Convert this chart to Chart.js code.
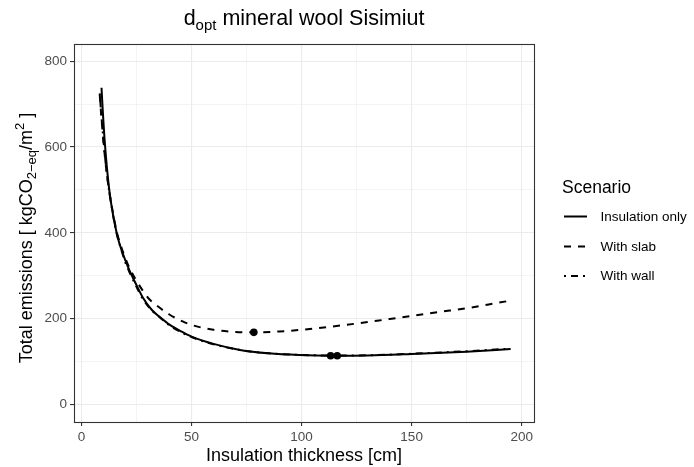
<!DOCTYPE html>
<html>
<head>
<meta charset="utf-8">
<title>dopt mineral wool Sisimiut</title>
<script src="https://cdn.jsdelivr.net/npm/chart.js@4.4.1/dist/chart.umd.min.js"></script>
<style>
    html, body { margin: 0; padding: 0; background: #ffffff; }
    #wrap { width: 694px; height: 467px; }
</style>
</head>
<body>
<div id="wrap"><canvas id="chart" width="694" height="467"></canvas></div>
<script>
// Series
const scenarios = ['Insulation only', 'With slab', 'With wall'];

const insulX = [9.1, 9.5, 10.6, 12.5, 14.4, 15.9, 17.4, 20, 22, 25, 28, 32, 36, 40, 45, 50, 60, 72, 85, 99, 114, 130, 150, 175, 195];
const insulY = [738, 700, 610, 505, 440, 402, 372, 335, 310, 278, 248, 220, 202, 186, 171, 158, 141, 127, 119, 115, 113.5, 114, 117.5, 123, 129];

const slabX = [8.3, 9, 10, 11, 12.5, 14, 15.9, 18, 20, 22, 25, 28, 30.3, 34.8, 40.1, 46.2, 51.5, 60, 70, 78.3, 90, 100, 113, 125.7, 140, 150, 162, 175, 185, 195];
const slabY = [722, 672, 612, 560, 500, 455, 405, 368, 340, 316, 288, 264, 248, 228, 209, 193, 183, 174, 169, 168, 170, 174, 181, 189, 199, 206, 215, 224, 233, 242];

const wallX = [8.3, 9, 10, 11, 12.5, 14, 15.9, 18, 20, 22, 25, 28, 32, 36, 40, 45, 50, 60, 72, 85, 99, 113, 130, 150, 175, 195];
const wallY = [725, 675, 615, 562, 500, 452, 400, 362, 330, 306, 274, 245, 219, 201, 184, 169, 157, 140, 127, 119, 115.5, 114, 114.5, 118, 124, 130];

// Optimal thickness markers
const optX = [116.2, 78.3, 113.2];
const optY = [113.5, 168, 113.5];

// Axis ticks
const xMajor = [0, 50, 100, 150, 200];
const xMinor = [25, 75, 125, 175];
const yMajor = [0, 200, 400, 600, 800];
const yMinor = [100, 300, 500, 700];

const FONT = '"Liberation Sans", Arial, Helvetica, sans-serif';
const dashes = [[], [7, 7], [2, 5, 7, 5]];

function toPoints(xs, ys) {
    return xs.map((x, i) => ({ x: x, y: ys[i] }));
}

function lineSet(label, xs, ys, dash) {
    return {
        label: label,
        data: toPoints(xs, ys),
        showLine: true,
        borderColor: '#000000',
        borderWidth: 2,
        borderDash: dash,
        pointRadius: 0,
        cubicInterpolationMode: 'monotone',
        fill: false
    };
}

// Draw a run of text pieces (normal / sub / superscript) centred on x
function drawRich(ctx, parts, x, y) {
    let total = 0;
    parts.forEach(p => {
        ctx.font = `${p.size}px ${FONT}`;
        p.w = ctx.measureText(p.text).width;
        total += p.w;
    });
    let cx = x - total / 2;
    ctx.textAlign = 'left';
    ctx.textBaseline = 'alphabetic';
    parts.forEach(p => {
        ctx.font = `${p.size}px ${FONT}`;
        ctx.fillText(p.text, cx, y + (p.dy || 0));
        cx += p.w;
    });
}

const ggDecor = {
    id: 'ggDecor',
    afterDatasetsDraw(chart) {
        const { ctx, chartArea: a } = chart;
        ctx.save();
        ctx.strokeStyle = '#333333';
        ctx.lineWidth = 1.1;
        ctx.strokeRect(Math.round(a.left) + 0.5, Math.round(a.top) + 0.5,
            Math.round(a.right - a.left), Math.round(a.bottom - a.top));
        ctx.restore();
    },
    afterDraw(chart) {
        const { ctx } = chart;
        ctx.save();
        ctx.fillStyle = '#000000';

        // Main title
        drawRich(ctx, [
            { text: 'd', size: 21.5 },
            { text: 'opt', size: 15, dy: 5 },
            { text: ' mineral wool Sisimiut', size: 21.5 }
        ], 304, 25);

        // X axis title
        drawRich(ctx, [{ text: 'Insulation thickness [cm]', size: 18 }], 304, 461);

        // Y axis title (rotated)
        ctx.save();
        ctx.translate(31.5, 238);
        ctx.rotate(-Math.PI / 2);
        drawRich(ctx, [
            { text: 'Total emissions [ kgCO', size: 18 },
            { text: '2\u2212eq', size: 13, dy: 4 },
            { text: '/m', size: 18 },
            { text: '2', size: 13, dy: -8 },
            { text: ' ]', size: 18 }
        ], 0, 0);
        ctx.restore();

        // Legend
        ctx.textAlign = 'left';
        ctx.textBaseline = 'alphabetic';
        ctx.font = `17.5px ${FONT}`;
        ctx.fillText('Scenario', 562, 193);
        const keyY = [216.5, 246.5, 276];
        ctx.font = `13.5px ${FONT}`;
        ctx.textBaseline = 'middle';
        scenarios.forEach((name, i) => {
            ctx.beginPath();
            ctx.setLineDash(dashes[i]);
            ctx.strokeStyle = '#000000';
            ctx.lineWidth = 2;
            ctx.moveTo(564, keyY[i]);
            ctx.lineTo(587, keyY[i]);
            ctx.stroke();
            ctx.setLineDash([]);
            ctx.fillText(name, 600.5, keyY[i] + 0.5);
        });
        ctx.restore();
    }
};

function gridScale(min, max, major, minor, fitKey, fitSize) {
    const all = major.concat(minor).sort((p, q) => p - q);
    return {
        type: 'linear',
        min: min,
        max: max,
        afterBuildTicks: scale => {
            scale.ticks = all.map(v => ({ value: v }));
        },
        afterFit: scale => {
            scale[fitKey] = fitSize;
        },
        ticks: {
            autoSkip: false,
            maxRotation: 0,
            padding: 3,
            color: '#4d4d4d',
            font: { family: FONT, size: 13.5 },
            callback: v => (major.includes(v) ? String(v) : '')
        },
        grid: {
            color: '#ebebeb',
            lineWidth: c => (major.includes(c.tick.value) ? 1.1 : 0.55),
            tickColor: c => (major.includes(c.tick.value) ? '#333333' : 'rgba(0,0,0,0)'),
            tickWidth: 1.1,
            tickLength: 4
        },
        border: { display: false }
    };
}

const chart = new Chart(document.getElementById('chart').getContext('2d'), {
    type: 'scatter',
    data: {
        datasets: [
            lineSet(scenarios[0], insulX, insulY, dashes[0]),
            lineSet(scenarios[1], slabX, slabY, dashes[1]),
            lineSet(scenarios[2], wallX, wallY, dashes[2]),
            {
                label: 'Optimum',
                data: toPoints(optX, optY),
                showLine: false,
                pointRadius: 3.8,
                pointBackgroundColor: '#000000',
                pointBorderColor: '#000000',
                pointBorderWidth: 0
            }
        ]
    },
    options: {
        responsive: false,
        devicePixelRatio: 1,
        animation: false,
        layout: { padding: { left: 0, top: 44, right: 160, bottom: 0 } },
        plugins: {
            legend: { display: false },
            title: { display: false },
            tooltip: { enabled: false }
        },
        scales: {
            x: gridScale(-3.4, 205.6, xMajor, xMinor, 'height', 45),
            y: gridScale(-41, 840, yMajor, yMinor, 'width', 74)
        }
    },
    plugins: [ggDecor]
});
</script>
</body>
</html>
